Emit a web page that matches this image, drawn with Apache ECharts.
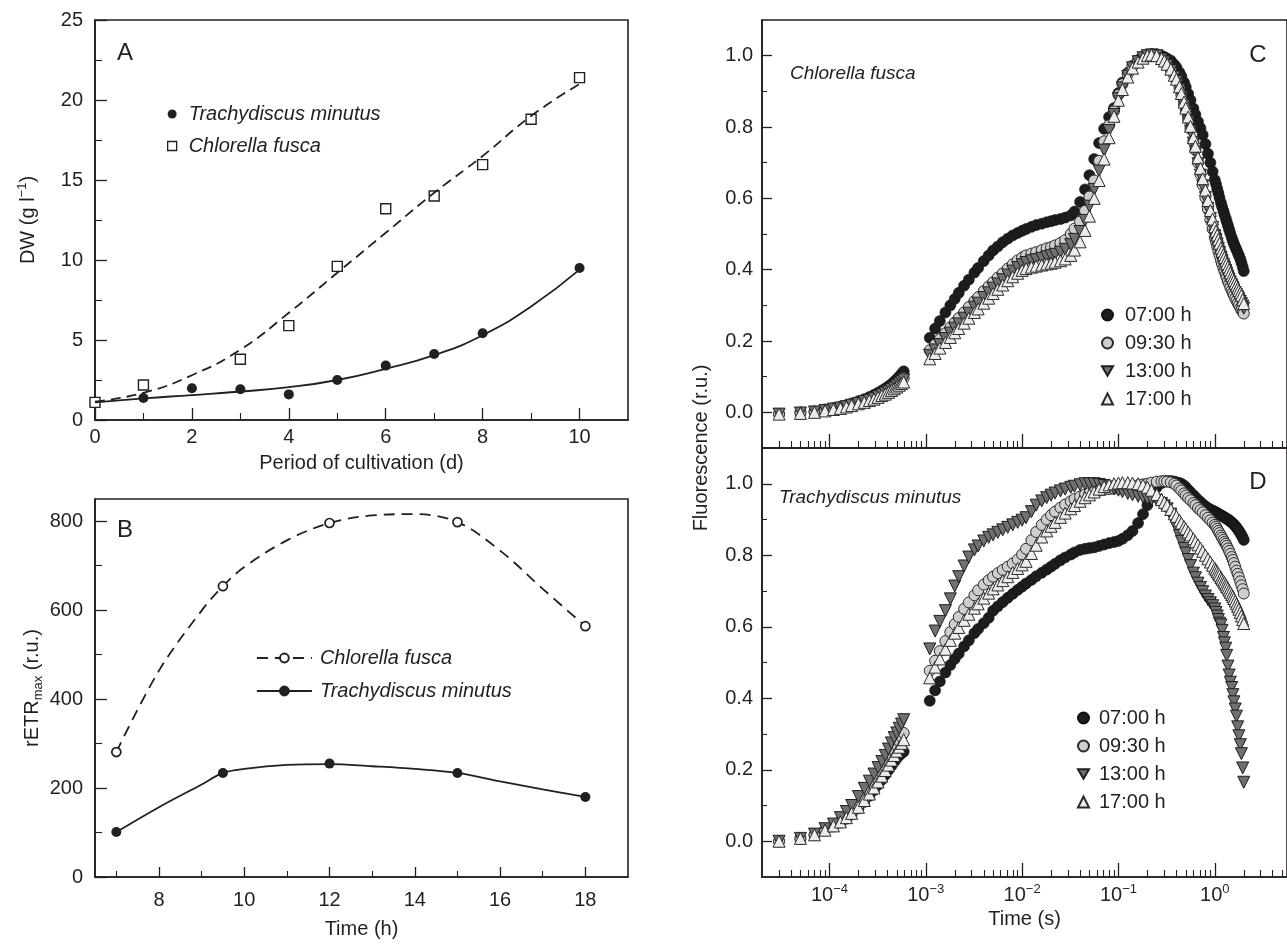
<!DOCTYPE html>
<html><head><meta charset="utf-8">
<script src="https://cdn.jsdelivr.net/npm/echarts@6/dist/echarts.min.js"></script>
<style>html,body{margin:0;padding:0;background:#fff}#c{width:1287px;height:945px}</style>
</head><body><div id="c"></div>
<script>
// ---------- Panel A: dry weight vs. days ----------
const daysT = [0,1,2,3,4,5,6,7,8,10];
const dwTrachy = [1.1,1.38,1.98,1.92,1.6,2.5,3.4,4.12,5.42,9.5];
const daysC = [0,1,3,4,5,6,7,8,9,10];
const dwChlor = [1.1,2.19,3.8,5.9,9.6,13.2,14.0,15.96,18.8,21.4];
const fitDays = [0,1,2,3,4,5,6,7,8,9,10];
const fitChlor = [1.15,1.7,2.8,4.4,6.7,9.2,11.7,14.2,16.5,19.0,21.0];
const fitTrachy = [1.1,1.35,1.56,1.78,2.05,2.5,3.2,4.05,5.3,7.1,9.4];
// ---------- Panel B: rETRmax vs. time of day ----------
const hoursB = [7,9.5,12,15,18];
const etrChlor = [281,654,796,798,564];
const etrTrachy = [101,234,255,234,180];
const curveHours = [7,8,9,9.5,10,11,12,13,14,15,16,17,18];
const curveChlor = [281,464,599,654,697,757,796,813,816,798,734,648,564];
const curveTrachy = [101,157,208,234,243,252,254,249,243,234,215,197,180];
// ---------- Panels C/D: OJIP fluorescence transients ----------
const timeS = [3e-5,5e-5,7e-5,9e-5,1.1e-4,1.3e-4,1.5e-4,1.7e-4,2e-4,2.3e-4,2.6e-4,2.9e-4,3.2e-4,3.5e-4,3.8e-4,4.1e-4,4.4e-4,4.7e-4,5e-4,5.3e-4,5.6e-4,5.9e-4,
1.1e-3,1.25e-3,1.4e-3,1.6e-3,1.8e-3,2e-3,2.2e-3,2.5e-3,2.8e-3,3.2e-3,3.5e-3,4e-3,4.5e-3,5e-3,5.6e-3,6.3e-3,7.1e-3,8e-3,9e-3,
0.01,0.011,0.0125,0.014,0.016,0.018,0.02,0.022,0.025,0.028,0.032,0.035,0.04,0.045,0.05,0.056,0.063,0.071,0.08,0.09,
0.1,0.11,0.125,0.14,0.16,0.18,0.2,0.22,0.25,0.28,0.3,0.32,0.35,0.38,0.4,0.43,0.45,0.48,0.5,0.53,0.56,0.6,0.63,0.67,0.71,0.75,0.8,0.85,0.9,0.95,
1,1.03,1.06,1.09,1.12,1.16,1.19,1.23,1.26,1.3,1.33,1.37,1.41,1.45,1.5,1.54,1.58,1.63,1.68,1.73,1.78,1.84,1.89,1.95,2];
const timeLabels = ['07:00 h','09:30 h','13:00 h','17:00 h'];
const fC07 = [-0.005,0,0.003,0.008,0.012,0.016,0.02,0.025,0.031,0.037,0.043,0.049,0.055,0.061,0.067,0.073,0.079,0.086,0.093,0.1,0.108,0.115,
.209,.235,.256,.28,.30,.318,.335,.355,.372,.392,.405,.424,.44,.454,.465,.477,.487,.496,.503,
.509,.514,.52,.525,.529,.533,.536,.539,.542,.546,.552,.563,.59,.625,.665,.71,.755,.795,.828,.853,
.895,.925,.952,.972,.988,.998,1.003,1.005,1.004,1.0,.996,.992,.986,.975,.967,.953,.942,.925,.912,.893,.875,.852,.835,.815,.797,.778,.752,.725,.70,.675,
.652,.64,.627,.615,.602,.587,.577,.565,.555,.544,.535,.524,.513,.502,.49,.481,.473,.464,.456,.448,.44,.43,.42,.408,.396];
const fC09 = [-0.005,-0.002,0.001,0.005,0.009,0.013,0.017,0.021,0.026,0.031,0.036,0.041,0.046,0.051,0.056,0.061,0.066,0.072,0.078,0.084,0.09,0.096,
.174,.19,.205,.222,.238,.252,.264,.28,.295,.312,.323,.34,.353,.365,.378,.39,.403,.415,.426,
.434,.44,.445,.449,.455,.46,.463,.468,.475,.483,.5,.515,.535,.565,.605,.65,.705,.76,.805,.845,
.89,.92,.948,.97,.985,.995,1.0,1.002,1.0,.99,.982,.974,.96,.943,.932,.91,.89,.865,.848,.822,.795,.76,.735,.70,.668,.637,.602,.57,.54,.514,
.49,.478,.465,.452,.44,.426,.416,.405,.396,.386,.378,.368,.36,.351,.342,.335,.328,.32,.313,.306,.30,.293,.287,.282,.277];
const fC13 = [-0.005,-0.002,0.001,0.005,0.009,0.012,0.016,0.02,0.025,0.03,0.034,0.039,0.044,0.049,0.054,0.059,0.064,0.069,0.075,0.08,0.086,0.091,
.16,.175,.19,.207,.222,.236,.248,.264,.278,.295,.306,.322,.335,.348,.36,.372,.385,.396,.406,
.414,.42,.425,.428,.432,.436,.439,.443,.449,.457,.47,.485,.507,.538,.578,.625,.677,.735,.79,.835,
.88,.91,.942,.966,.983,.994,1.0,1.002,1.0,.99,.982,.973,.958,.94,.928,.905,.885,.86,.842,.815,.788,.755,.73,.697,.665,.635,.602,.572,.543,.518,
.495,.484,.472,.46,.448,.435,.425,.415,.407,.398,.39,.381,.373,.365,.357,.35,.343,.336,.33,.324,.318,.311,.305,.298,.292];
const fC17 = [-0.005,-0.003,0,0.004,0.008,0.011,0.015,0.019,0.024,0.028,0.033,0.037,0.042,0.047,0.051,0.056,0.061,0.066,0.071,0.076,0.081,0.085,
.15,.165,.18,.196,.21,.223,.235,.25,.264,.28,.29,.306,.32,.333,.345,.357,.369,.38,.39,
.398,.403,.407,.41,.413,.416,.418,.421,.425,.43,.44,.455,.478,.51,.55,.6,.65,.71,.77,.83,
.875,.905,.94,.965,.982,.993,1.0,1.002,1.0,.992,.985,.976,.962,.945,.934,.913,.894,.87,.853,.828,.802,.77,.746,.714,.684,.655,.623,.594,.566,.542,
.52,.508,.497,.485,.474,.461,.452,.442,.434,.425,.417,.408,.4,.391,.383,.376,.369,.362,.355,.348,.342,.335,.328,.316,.305];
const fD07 = [0,0.007,0.017,0.03,0.041,0.052,0.063,0.075,0.092,0.11,0.127,0.143,0.158,0.172,0.186,0.199,0.211,0.222,0.232,0.24,0.246,0.251,
.393,.422,.447,.472,.493,.51,.525,.545,.562,.582,.594,.61,.625,.645,.657,.669,.681,.692,.703,
.712,.721,.731,.741,.751,.76,.768,.776,.786,.794,.802,.808,.815,.818,.82,.822,.826,.83,.834,.837,
.84,.846,.856,.868,.89,.915,.94,.962,.99,1.002,1.006,1.008,1.008,1.006,1.004,1.002,1.0,.995,.99,.983,.976,.968,.962,.955,.949,.943,.937,.932,.928,.925,
.922,.92,.918,.916,.914,.912,.91,.908,.906,.904,.902,.9,.898,.895,.892,.889,.886,.882,.878,.873,.868,.862,.856,.85,.843];
const fD09 = [0,0.008,0.018,0.032,0.044,0.056,0.069,0.082,0.101,0.121,0.14,0.158,0.176,0.193,0.21,0.226,0.241,0.255,0.268,0.28,0.292,0.303,
.477,.505,.532,.56,.585,.607,.627,.65,.668,.688,.702,.718,.73,.74,.75,.759,.768,.777,.788,
.802,.818,.842,.865,.885,.9,.912,.922,.933,.942,.951,.957,.964,.97,.974,.978,.981,.983,.985,.986,
.988,.99,.992,.994,.996,.998,1.0,1.003,1.006,1.007,1.007,1.006,1.004,1.0,.995,.987,.981,.973,.967,.96,.954,.946,.94,.932,.926,.92,.912,.905,.898,.891,
.885,.88,.874,.868,.862,.855,.849,.843,.837,.832,.826,.819,.812,.804,.795,.787,.778,.768,.757,.748,.738,.727,.716,.705,.693];
const fD13 = [0,0.008,0.02,0.035,0.048,0.066,0.083,0.1,0.125,0.148,0.168,0.188,0.206,0.223,0.24,0.258,0.275,0.29,0.303,0.316,0.328,0.34,
.538,.588,.615,.645,.678,.714,.74,.77,.795,.815,.826,.84,.85,.857,.864,.871,.878,.885,.892,
.898,.905,.922,.94,.952,.961,.968,.974,.98,.985,.99,.993,.997,1.0,1.0,1.0,.998,.995,.991,.986,
.982,.978,.973,.969,.965,.962,.959,.957,.954,.945,.938,.93,.915,.893,.878,.855,.839,.819,.806,.788,.771,.75,.737,.722,.71,.698,.686,.676,.667,.659,
.65,.64,.63,.62,.61,.605,.59,.57,.555,.54,.52,.49,.465,.445,.43,.41,.39,.37,.35,.32,.295,.27,.245,.205,.165];
const fD17 = [0,0.008,0.018,0.031,0.043,0.054,0.066,0.078,0.095,0.114,0.132,0.149,0.166,0.182,0.198,0.213,0.227,0.24,0.252,0.263,0.274,0.284,
.457,.487,.51,.537,.562,.582,.598,.618,.635,.652,.664,.68,.694,.706,.717,.729,.74,.752,.763,
.773,.783,.805,.828,.851,.868,.881,.892,.906,.918,.93,.939,.951,.961,.969,.977,.985,.992,.997,1.0,
1.002,1.003,1.003,1.002,1.0,.996,.99,.982,.97,.956,.948,.94,.928,.916,.909,.898,.89,.88,.874,.865,.857,.846,.838,.829,.82,.811,.8,.79,.781,.772,
.764,.759,.754,.749,.744,.738,.733,.728,.723,.718,.713,.708,.702,.696,.69,.685,.679,.672,.664,.657,.649,.64,.63,.62,.609];

// ---------- tick values ----------
const ticksAx = [0,2,4,6,8,10], minorAx = [1,3,5,7,9];
const ticksAy = [0,5,10,15,20,25], minorAy = [2.5,7.5,12.5,17.5,22.5];
const ticksBx = [8,10,12,14,16,18], minorBx = [7,9,11,13,15,17];
const ticksBy = [0,200,400,600,800], minorBy = [100,300,500,700];
const ticksFy = [0,0.2,0.4,0.6,0.8,1.0], minorFy = [0.1,0.3,0.5,0.7,0.9];
const decades = [-4,-3,-2,-1,0];

const INK = '#231f20';
const FONT = '"Liberation Sans", Arial, Helvetica, sans-serif';
const LOGMIN = -4.7, LOGMAX = 0.75;
const logMinors = [];
for (let n = -5; n <= 0; n++) for (let k = 2; k <= 9; k++) {
  const v = n + Math.log10(k);
  if (v > LOGMIN + 0.01 && v < LOGMAX) logMinors.push(v);
}

function axisPair(gridIndex, min, max, position, majors, minors, majLen, minLen, labelOpt, extra) {
  const main = Object.assign({
    type: 'value', gridIndex, min, max, position,
    axisLine: {show: true, onZero: false, lineStyle: {color: INK, width: 1.6}},
    axisTick: {show: true, inside: true, length: majLen, customValues: majors, lineStyle: {color: INK, width: 1.3}},
    axisLabel: Object.assign({show: true, customValues: majors, color: INK, fontSize: 20, fontFamily: FONT}, labelOpt || {}),
    splitLine: {show: false}
  }, extra || {});
  const minor = {
    type: 'value', gridIndex, min, max, position,
    axisLine: {show: false, onZero: false},
    axisTick: {show: true, inside: true, length: minLen, customValues: minors, lineStyle: {color: INK, width: 1.1}},
    axisLabel: {show: false}, splitLine: {show: false}
  };
  return [main, minor];
}
const nameStyle = {color: INK, fontSize: 20, fontFamily: FONT};

const xAxes = [
  ...axisPair(0, 0, 11, 'bottom', ticksAx, minorAx, 12, 7, {margin: 7},
    {name: 'Period of cultivation (d)', nameLocation: 'middle', nameGap: 33, nameTextStyle: nameStyle}),
  ...axisPair(1, 6.5, 19, 'bottom', ticksBx, minorBx, 10, 6, {margin: 13},
    {name: 'Time (h)', nameLocation: 'middle', nameGap: 42, nameTextStyle: nameStyle}),
  ...axisPair(2, LOGMIN, LOGMAX, 'bottom', decades, logMinors, 14, 7, {show: false}),
  ...axisPair(3, LOGMIN, LOGMAX, 'bottom', decades, logMinors, 14, 7,
    {margin: 6, formatter: v => '{b|10}{s|' + (v < 0 ? '\u2212' + (-v) : v) + '}',
     rich: {b: {fontSize: 20, lineHeight: 24, color: INK, fontFamily: FONT},
            s: {fontSize: 13, lineHeight: 13, verticalAlign: 'top', color: INK, fontFamily: FONT}}},
    {name: 'Time (s)', nameLocation: 'middle', nameGap: 32, nameTextStyle: nameStyle})
];
const yAxes = [
  ...axisPair(0, 0, 25, 'left', ticksAy, minorAy, 12, 7, {margin: 12},
    {name: '{t|DW (g l}{s|\u22121}{t|)}', nameLocation: 'middle', nameRotate: 90, nameGap: 55,
     nameTextStyle: {rich: {t: {fontSize: 20, lineHeight: 24, color: INK, fontFamily: FONT},
                            s: {fontSize: 13, lineHeight: 12, verticalAlign: 'top', color: INK, fontFamily: FONT}}}}),
  ...axisPair(1, 0, 850, 'left', ticksBy, minorBy, 12, 7, {margin: 12},
    {name: '{t|rETR}{s|max}{t| (r.u.)}', nameLocation: 'middle', nameRotate: 90, nameGap: 50,
     nameTextStyle: {rich: {t: {fontSize: 20, lineHeight: 26, color: INK, fontFamily: FONT},
                            s: {fontSize: 13, lineHeight: 12, verticalAlign: 'bottom', color: INK, fontFamily: FONT}}}}),
  ...axisPair(2, -0.1, 1.1, 'left', ticksFy, minorFy, 10, 5, {margin: 9, formatter: v => v.toFixed(1)}),
  ...axisPair(3, -0.1, 1.1, 'left', ticksFy, minorFy, 10, 5, {margin: 9, formatter: v => v.toFixed(1)})
];

const zip = (xs, ys) => xs.map((x, i) => [x, ys[i]]);
const logZip = ys => timeS.map((t, i) => [Math.log10(t), ys[i]]);

const markerStyles = [
  {symbol: 'circle', symbolSize: 11, symbolRotate: 0, itemStyle: {color: '#1d1d1f', borderColor: '#111', borderWidth: 0.6, opacity: 1}},
  {symbol: 'circle', symbolSize: 11, symbolRotate: 0, itemStyle: {color: '#cdced0', borderColor: '#2a2a2a', borderWidth: 1, opacity: 1}},
  {symbol: 'triangle', symbolSize: 12, symbolRotate: 180, itemStyle: {color: '#6f7072', borderColor: '#1e1e1e', borderWidth: 1, opacity: 1}},
  {symbol: 'triangle', symbolSize: 12, symbolRotate: 0, itemStyle: {color: '#ececec', borderColor: '#2a2a2a', borderWidth: 1, opacity: 1}}
];
const legendIcons = ['circle', 'circle', 'path://M0,0L12,0L6,10.4Z', 'triangle'];
function ojipSeries(prefix, axisIdx, arrays) {
  return arrays.map((arr, i) => Object.assign({
    type: 'scatter', name: prefix + '|' + timeLabels[i], symbolKeepAspect: true,
    xAxisIndex: axisIdx, yAxisIndex: axisIdx, data: logZip(arr)
  }, markerStyles[i]));
}

const series = [
  {type: 'line', name: 'A|fitC', xAxisIndex: 0, yAxisIndex: 0, data: zip(fitDays, fitChlor), smooth: true, symbol: 'none',
   lineStyle: {color: INK, width: 1.8, type: [10, 6]}},
  {type: 'line', name: 'A|fitT', xAxisIndex: 0, yAxisIndex: 0, data: zip(fitDays, fitTrachy), smooth: true, symbol: 'none',
   lineStyle: {color: INK, width: 1.8}},
  {type: 'scatter', name: 'A|Trachydiscus minutus', xAxisIndex: 0, yAxisIndex: 0, data: zip(daysT, dwTrachy),
   symbol: 'circle', symbolSize: 10, itemStyle: {color: INK, opacity: 1}, clip: false},
  {type: 'scatter', name: 'A|Chlorella fusca', xAxisIndex: 0, yAxisIndex: 0, data: zip(daysC, dwChlor),
   symbol: 'rect', symbolSize: 10, itemStyle: {color: '#fff', borderColor: INK, borderWidth: 1.4, opacity: 1}, clip: false},
  {type: 'line', name: 'B|Chlorella fusca', xAxisIndex: 2, yAxisIndex: 2, data: zip(curveHours, curveChlor),
   smooth: 0.35, symbol: 'circle', symbolSize: 9, showSymbol: false,
   itemStyle: {color: '#fff', borderColor: INK, borderWidth: 1.6}, lineStyle: {color: INK, width: 1.8, type: [11, 7]}},
  {type: 'line', name: 'B|Trachydiscus minutus', xAxisIndex: 2, yAxisIndex: 2, data: zip(curveHours, curveTrachy),
   smooth: 0.35, symbol: 'circle', symbolSize: 9, showSymbol: false,
   itemStyle: {color: INK, borderColor: INK, borderWidth: 1}, lineStyle: {color: INK, width: 1.8}},
  {type: 'scatter', name: 'B|ptsC', xAxisIndex: 2, yAxisIndex: 2, data: zip(hoursB, etrChlor), symbol: 'circle', symbolSize: 9,
   itemStyle: {color: '#fff', borderColor: INK, borderWidth: 1.7, opacity: 1}, z: 5},
  {type: 'scatter', name: 'B|ptsT', xAxisIndex: 2, yAxisIndex: 2, data: zip(hoursB, etrTrachy), symbol: 'circle', symbolSize: 10,
   itemStyle: {color: INK, opacity: 1}, z: 5},
  ...ojipSeries('C', 4, [fC07, fC09, fC13, fC17]),
  ...ojipSeries('D', 6, [fD07, fD09, fD13, fD17])
];

const legText = {color: INK, fontSize: 20, fontFamily: FONT, lineHeight: 20};
const strip = n => n.split('|')[1];
const timeLegendData = p => timeLabels.map((t, i) => ({name: p + '|' + t, icon: legendIcons[i]}));
const legends = [
  {data: ['A|Trachydiscus minutus', 'A|Chlorella fusca'], orient: 'vertical', left: 167, top: 104, padding: 0,
   itemWidth: 9, itemHeight: 9, itemGap: 12, selectedMode: false, formatter: strip,
   textStyle: Object.assign({}, legText, {fontStyle: 'italic', padding: [0, 0, 0, 7]}), itemStyle: {borderWidth: 1.3}},
  {data: ['B|Chlorella fusca', 'B|Trachydiscus minutus'], orient: 'vertical', left: 256, top: 648, padding: 0,
   itemWidth: 55, itemHeight: 11, itemGap: 13, selectedMode: false, formatter: strip,
   textStyle: Object.assign({}, legText, {fontStyle: 'italic', padding: [0, 0, 0, 3]}), lineStyle: {width: 1.8}},
  {data: timeLegendData('C'), orient: 'vertical', left: 1101, top: 305, padding: 0,
   itemWidth: 11, itemHeight: 11, itemGap: 8, selectedMode: false, formatter: strip,
   textStyle: Object.assign({}, legText, {padding: [0, 0, 0, 7]})},
  {data: timeLegendData('D'), orient: 'vertical', left: 1077, top: 708, padding: 0,
   itemWidth: 11, itemHeight: 11, itemGap: 8, selectedMode: false, formatter: strip,
   textStyle: Object.assign({}, legText, {padding: [0, 0, 0, 5]})}
];

const gridBase = {show: true, borderColor: INK, borderWidth: 1.6, backgroundColor: 'transparent', containLabel: false};
const txt = (text, x, y, size, extra) => ({type: 'text', x, y, silent: true, z: 100,
  style: Object.assign({text, fill: INK, font: size + 'px ' + FONT, textAlign: 'center', textVerticalAlign: 'middle'}, extra || {})});

const option = {
  animation: false,
  backgroundColor: '#fff',
  textStyle: {fontFamily: FONT},
  grid: [
    Object.assign({left: 95, top: 20, width: 533, height: 400}, gridBase),
    Object.assign({left: 95, top: 499, width: 533, height: 378}, gridBase),
    Object.assign({left: 762, top: 20, width: 529, height: 428}, gridBase),
    Object.assign({left: 762, top: 448, width: 529, height: 429}, gridBase)
  ],
  xAxis: xAxes,
  yAxis: yAxes,
  legend: legends,
  series,
  graphic: [
    txt('A', 125, 53, 24),
    txt('B', 125, 530, 24),
    txt('C', 1258, 55, 24),
    txt('D', 1258, 482, 24),
    txt('Chlorella fusca', 790, 74, 19, {textAlign: 'left', font: 'italic 19px ' + FONT}),
    txt('Trachydiscus minutus', 779, 498, 19, {textAlign: 'left', font: 'italic 19px ' + FONT}),
    Object.assign(txt('Fluorescence (r.u.)', 701, 448, 20), {rotation: Math.PI / 2})
  ]
};
echarts.init(document.getElementById('c'), null, {renderer: 'canvas'}).setOption(option);
</script></body></html>
